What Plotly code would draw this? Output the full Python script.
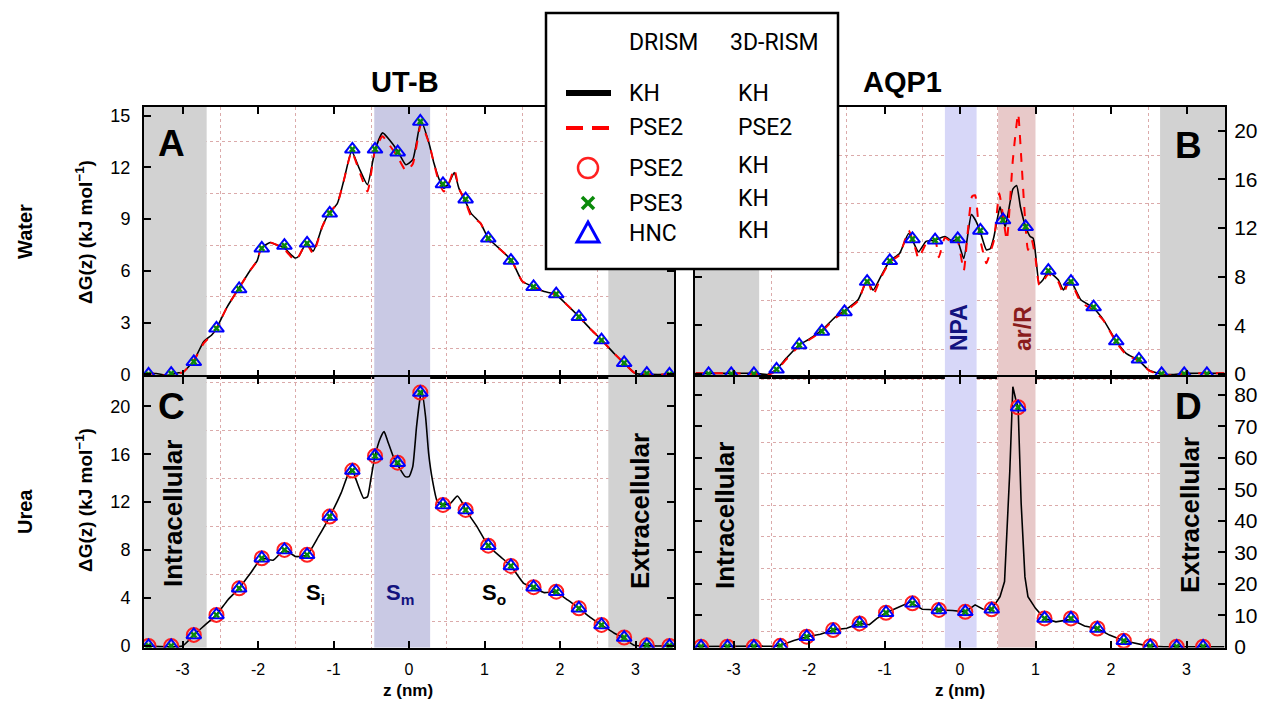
import plotly.graph_objects as go

W, H = 1267, 704
OFF = 8  # default page margin of the html body

# ---------------- data ----------------
x_tick_vals = [-3, -2, -1, 0, 1, 2, 3]
x_tick_text = ["-3", "-2", "-1", "0", "1", "2", "3"]

# Panel A : UT-B water
z_A_kh = [-3.5, -3.35, -3.2, -3.05, -3.0, -2.85, -2.72, -2.61, -2.55, -2.41, -2.26, -2.1, -2.01, -1.96,
          -1.84, -1.75, -1.67, -1.51, -1.46, -1.36, -1.27, -1.15, -1.06, -0.95, -0.86, -0.76, -0.66,
          -0.55, -0.45, -0.35, -0.26, -0.15, -0.04, 0.05, 0.16, 0.265, 0.33, 0.4, 0.46, 0.53, 0.6,
          0.66, 0.75, 0.82, 0.95, 1.05, 1.22, 1.36, 1.5, 1.66, 1.79, 1.94, 2.1, 2.25, 2.4, 2.55,
          2.72, 2.85, 3.0, 3.2, 3.5]
g_A_kh = [0.05, 0.05, -0.05, 0.1, 0.1, 0.8, 1.9, 2.3, 2.67, 3.9, 4.95, 6.05, 6.6, 7.3,
          7.65, 7.5, 7.4, 6.75, 6.85, 7.6, 7.15, 8.55, 9.35, 9.9, 11.3, 12.95, 11.95,
          11.0, 13.0, 14.0, 13.6, 12.95, 12.15, 12.45, 14.7, 13.4, 12.25, 11.3, 10.8, 11.1, 11.7,
          10.8, 10.0, 9.35, 8.75, 7.9, 7.2, 6.6, 5.4, 5.05, 4.8, 4.65, 4.0, 3.35, 2.65, 2.0,
          1.2, 0.65, 0.05, 0.0, 0.0]
g_A_pse = [0.05, 0.05, -0.1, 0.1, 0.1, 0.8, 1.8, 2.3, 2.67, 3.9, 4.95, 6.05, 6.6, 7.3,
           7.65, 7.5, 7.35, 6.6, 6.85, 7.6, 7.0, 8.55, 9.35, 9.9, 11.3, 12.9, 11.8,
           10.6, 13.0, 13.8, 13.3, 12.6, 11.8, 12.2, 14.5, 13.4, 12.25, 11.1, 10.6, 11.1, 11.9,
           10.8, 10.0, 9.2, 8.75, 7.8, 7.2, 6.6, 5.4, 5.05, 4.8, 4.65, 4.0, 3.35, 2.65, 2.0,
           1.2, 0.65, 0.05, 0.0, 0.0]

# Panel B : AQP1 water
z_B_kh = [-3.5, -3.0, -2.7, -2.55, -2.43, -2.3, -2.13, -2.0, -1.83, -1.65, -1.53, -1.35, -1.23, -1.15,
          -1.05, -0.93, -0.8, -0.68, -0.55, -0.45, -0.33, -0.2, -0.1, -0.04, 0.05, 0.15, 0.2, 0.26,
          0.35, 0.4, 0.45, 0.53, 0.57, 0.6, 0.7, 0.75, 0.8, 0.87, 0.93, 0.97, 1.0, 1.05, 1.1, 1.17,
          1.3, 1.37, 1.42, 1.47, 1.6, 1.7, 1.76, 1.9, 2.06, 2.2, 2.36, 2.5, 2.66, 2.8, 3.0, 3.5]
g_B_kh = [0.05, 0.05, 0.05, -0.05, 0.38, 1.3, 2.4, 2.85, 3.6, 4.7, 5.2, 6.1, 7.65, 6.9,
          8.0, 9.3, 9.9, 11.55, 10.05, 10.9, 11.0, 11.3, 10.9, 11.05, 9.5, 13.1, 12.7, 11.85,
          10.2, 10.3, 11.3, 13.75, 12.7, 12.1, 15.2, 15.5, 13.75, 12.1, 11.3, 11.15, 9.9, 7.45, 7.75, 8.4,
          7.75, 6.9, 7.45, 7.6, 6.1, 5.7, 5.5, 4.45, 2.8, 1.7, 1.15, 0.33, 0.0, -0.05, 0.05, 0.05]
z_B_pse = [-3.5, -3.0, -2.7, -2.55, -2.43, -2.3, -2.13, -2.0, -1.83, -1.65, -1.53, -1.35, -1.23, -1.15,
           -1.05, -0.93, -0.8, -0.68, -0.6, -0.55, -0.45, -0.33, -0.28, -0.2, -0.1, -0.04, 0.05, 0.1,
           0.16, 0.2, 0.26, 0.35, 0.4, 0.45, 0.52, 0.57, 0.62, 0.7, 0.77, 0.81, 0.86, 0.9, 0.95, 1.0,
           1.05, 1.1, 1.17, 1.3, 1.37, 1.42, 1.47, 1.6, 1.7, 1.76, 1.9, 2.06, 2.2, 2.36, 2.5, 2.66,
           2.8, 3.0, 3.5]
g_B_pse = [0.05, 0.05, 0.0, -0.1, 0.3, 1.2, 2.3, 2.8, 3.5, 4.6, 5.1, 6.0, 7.8, 6.5,
           7.9, 9.2, 9.8, 11.8, 10.5, 9.5, 10.7, 11.0, 9.6, 11.2, 10.8, 11.2, 8.5, 11.5,
           14.6, 14.7, 11.3, 9.1, 10.0, 11.0, 14.85, 13.0, 11.0, 17.6, 21.4, 17.9, 12.9, 10.2, 11.0, 9.5,
           7.3, 7.6, 8.2, 7.6, 6.6, 7.3, 7.5, 5.9, 5.5, 5.3, 4.4, 2.7, 1.6, 1.1, 0.3, -0.1,
           -0.1, 0.05, 0.05]

# Panel C : UT-B urea
z_C_kh = [-3.5, -3.0, -2.85, -2.7, -2.55, -2.4, -2.25, -2.1, -1.95, -1.8, -1.65, -1.5, -1.35, -1.2,
          -1.05, -0.9, -0.8, -0.75, -0.7, -0.6, -0.55, -0.5, -0.45, -0.38, -0.33, -0.28, -0.2, -0.15,
          -0.05, 0.0, 0.05, 0.1, 0.15, 0.17, 0.22, 0.26, 0.31, 0.375, 0.44, 0.55, 0.64, 0.71, 0.75,
          0.9, 1.05, 1.21, 1.35, 1.52, 1.65, 1.79, 1.94, 2.1, 2.25, 2.4, 2.55, 2.72, 2.85, 2.98,
          3.2, 3.5]
g_C_kh = [0.0, 0.0, 0.92, 1.75, 2.59, 3.84, 4.81, 6.07, 7.32, 7.15, 8.01, 7.46, 7.6, 9.12,
          10.8, 12.75, 14.42, 14.7, 13.86, 12.33, 12.45, 14.13, 15.86, 17.34, 17.89, 17.05, 15.67, 15.1,
          14.13, 14.13, 14.97, 18.3, 20.8, 21.3, 19.1, 16.08, 13.86, 12.05, 11.77, 11.91, 12.52, 11.91, 11.35,
          9.96, 8.37, 7.45, 6.68, 5.23, 4.9, 4.45, 4.5, 3.84, 3.14, 2.39, 1.75, 1.06, 0.64, 0.05,
          0.0, 0.0]

# Panel D : AQP1 urea
z_D_kh = [-3.5, -3.0, -2.6, -2.45, -2.38, -2.2, -2.03, -1.85, -1.68, -1.5, -1.33, -1.2, -1.1, -0.98,
          -0.8, -0.66, -0.5, -0.28, -0.1, 0.07, 0.2, 0.3, 0.42, 0.53, 0.59, 0.66, 0.7, 0.74, 0.77,
          0.81, 0.86, 0.9, 1.0, 1.12, 1.27, 1.47, 1.65, 1.82, 1.98, 2.17, 2.33, 2.5, 2.7, 3.5]
g_D_kh = [0.1, 0.1, 0.1, 0.2, 0.4, 2.0, 3.2, 4.0, 5.3, 5.9, 7.4, 7.0, 9.0, 10.8,
          12.7, 14.2, 11.9, 11.7, 11.5, 11.1, 13.3, 12.0, 11.9, 15.9, 20.7, 56.0, 82.6, 78.4, 76.0,
          45.6, 22.2, 15.9, 12.2, 9.0, 7.9, 8.7, 6.6, 5.8, 3.7, 1.9, 1.1, 0.2, 0.0, 0.0]

# symbols (PSE2/KH circles, PSE3/KH crosses, HNC/KH triangles)
z_mark_utb = [-3.45, -3.15, -2.85, -2.55, -2.25, -1.95, -1.65, -1.35, -1.05, -0.75, -0.45, -0.15,
              0.15, 0.45, 0.75, 1.05, 1.35, 1.65, 1.95, 2.25, 2.55, 2.85, 3.15, 3.45]
g_mark_A = [0.0, 0.05, 0.73, 2.67, 4.95, 7.31, 7.47, 7.6, 9.34, 13.05, 13.05, 12.88,
            14.66, 11.04, 10.16, 7.89, 6.6, 5.08, 4.66, 3.34, 1.99, 0.67, 0.05, 0.0]
g_mark_C = [0.0, 0.0, 0.92, 2.59, 4.81, 7.32, 8.01, 7.6, 10.8, 14.64, 15.86, 15.3,
            21.15, 11.77, 11.35, 8.37, 6.68, 4.9, 4.53, 3.14, 1.75, 0.7, 0.05, 0.0]
z_mark_B = [-3.33, -3.03, -2.73, -2.43, -2.13, -1.83, -1.53, -1.23, -0.93, -0.63, -0.33, -0.03,
            0.27, 0.57, 0.87, 1.17, 1.47, 1.77, 2.07, 2.37, 2.67, 2.97, 3.27]
g_mark_B = [0.0, 0.0, 0.0, 0.38, 2.38, 3.5, 5.1, 7.6, 9.3, 11.1, 11.0, 11.1,
            11.8, 12.66, 12.1, 8.5, 7.6, 5.5, 2.7, 1.2, 0.0, 0.0, 0.0]
z_mark_D = [-3.43, -3.08, -2.73, -2.38, -2.03, -1.68, -1.33, -0.98, -0.63, -0.28, 0.07, 0.42,
            0.77, 1.12, 1.47, 1.82, 2.17, 2.52, 2.87, 3.22]
g_mark_D = [0.0, 0.0, 0.0, 0.3, 3.2, 5.3, 7.4, 10.8, 13.8, 11.7, 11.1, 11.9,
            76.1, 9.0, 9.0, 5.8, 1.9, 0.2, 0.0, 0.0]

# shaded regions (z in nm)
utb_regions = [(-3.51, -2.68, "#d2d2d2"), (-0.46, 0.28, "#c9c9e4"), (2.64, 3.51, "#d2d2d2")]
aqp_regions = [(-3.51, -2.66, "#d2d2d2"), (-0.2, 0.22, "#d7d7f8"), (0.505, 1.0, "#e8c9c9"), (2.65, 3.51, "#d2d2d2")]

# axis ranges
x_range = [-3.51, 3.51]
yA_range = [-0.15, 15.5]
yB_range = [-0.25, 21.95]
yC_range = [-0.15, 22.45]
yD_range = [-0.3, 85.7]
yA_ticks = [0, 3, 6, 9, 12, 15]
yB_ticks = [0, 4, 8, 12, 16, 20]
yC_ticks = [0, 4, 8, 12, 16, 20]
yD_ticks = [0, 10, 20, 30, 40, 50, 60, 70, 80]
yA_grid = [1.5, 4.5, 7.5, 10.5, 13.5]
yB_grid = [2, 6, 10, 14, 18]
yC_grid = [2, 6, 10, 14, 18, 22]
yD_grid = [5, 15, 25, 35, 45, 55, 65, 75, 85]
x_grid = [-2.5, -1.5, -0.5, 0.5, 1.5, 2.5]

# ---------------- figure ----------------
FONT = "Liberation Sans"
GRID = "#dbaaaa"


def px(x):
    return (x - OFF) / W


def py(y):
    return 1 - (y - OFF) / H


fig = go.Figure()


def add_regions(regions, ax, yr):
    for (a, b, c) in regions:
        fig.add_trace(go.Scatter(x=[a, b, b, a, a], y=[yr[0], yr[0], yr[1], yr[1], yr[0]],
                                 xaxis=ax[0], yaxis=ax[1], mode="lines", fill="toself",
                                 fillcolor=c, line=dict(width=0, color=c),
                                 showlegend=False, hoverinfo="skip"))


def add_lines(z, g, ax, color, dash, width, shape="spline"):
    fig.add_trace(go.Scatter(x=z, y=g, xaxis=ax[0], yaxis=ax[1], mode="lines",
                             line=dict(color=color, width=width, dash=dash, shape=shape,
                                       smoothing=0.5 if shape == "spline" else None),
                             showlegend=False, hoverinfo="skip"))


def add_marks(z, g, ax, circles):
    if circles:
        fig.add_trace(go.Scatter(x=z, y=g, xaxis=ax[0], yaxis=ax[1], mode="markers",
                                 marker=dict(symbol="circle-open", size=14, color="#ff2020",
                                             line=dict(width=2, color="#ff2020")),
                                 showlegend=False, hoverinfo="skip"))
    fig.add_trace(go.Scatter(x=z, y=g, xaxis=ax[0], yaxis=ax[1], mode="markers",
                             marker=dict(symbol="triangle-up-open", size=13, color="#0000ff",
                                         line=dict(width=2, color="#0000ff")),
                             showlegend=False, hoverinfo="skip"))
    fig.add_trace(go.Scatter(x=z, y=g, xaxis=ax[0], yaxis=ax[1], mode="markers",
                             marker=dict(symbol="x", size=6, color="#0a8a0a",
                                         line=dict(width=0)),
                             showlegend=False, hoverinfo="skip"))


axA, axB, axC, axD = ("x", "y"), ("x2", "y2"), ("x3", "y3"), ("x4", "y4")

add_regions(utb_regions, axA, yA_range)
add_regions(aqp_regions, axB, yB_range)
add_regions(utb_regions, axC, yC_range)
add_regions(aqp_regions, axD, yD_range)

add_lines(z_A_kh, g_A_kh, axA, "black", "solid", 1.6)
add_lines(z_A_kh, g_A_pse, axA, "#ff0000", "dash", 2)
add_marks(z_mark_utb, g_mark_A, axA, False)

add_lines(z_B_kh, g_B_kh, axB, "black", "solid", 1.6)
add_lines(z_B_pse, g_B_pse, axB, "#ff0000", "dash", 2)
add_marks(z_mark_B, g_mark_B, axB, False)

add_lines(z_C_kh, g_C_kh, axC, "black", "solid", 1.6)
add_marks(z_mark_utb, g_mark_C, axC, True)

add_lines(z_D_kh, g_D_kh, axD, "black", "solid", 1.6, shape="linear")
add_marks(z_mark_D, g_mark_D, axD, True)

xdom_L = [px(144), px(674)]
xdom_R = [px(695), px(1225)]
ydom_T = [py(377), py(107)]
ydom_B = [py(647.7), py(377)]


def xax(domain, anchor, labels):
    return dict(domain=domain, anchor=anchor, range=x_range, automargin=False,
                tickmode="array", tickvals=x_tick_vals, ticktext=x_tick_text,
                ticks="inside", ticklen=7, tickwidth=1.5, tickcolor="black",
                showline=True, linewidth=2, linecolor="black", mirror="ticks",
                showgrid=False, zeroline=False, showticklabels=labels,
                ticklabelstandoff=6,
                tickfont=dict(family=FONT, size=16, color="black"),
                minor=dict(tickvals=x_grid, showgrid=True, gridcolor=GRID,
                           griddash="dot", gridwidth=1, ticks=""))


def yax(domain, anchor, rng, tickv, minorv, side, fsize):
    return dict(domain=domain, anchor=anchor, range=rng, side=side, automargin=False,
                tickmode="array", tickvals=tickv, ticktext=[str(v) for v in tickv],
                ticks="inside", ticklen=7, tickwidth=1.5, tickcolor="black",
                showline=True, linewidth=2, linecolor="black", mirror="ticks",
                showgrid=False, zeroline=False, ticklabelstandoff=8 if side == "left" else 3,
                tickfont=dict(family=FONT, size=fsize, color="black"),
                minor=dict(tickvals=minorv, showgrid=True, gridcolor=GRID,
                           griddash="dot", gridwidth=1, ticks=""))


fig.update_layout(
    width=W, height=H, margin=dict(l=0, r=0, t=0, b=0, autoexpand=False), autosize=False,
    paper_bgcolor="white", plot_bgcolor="white", showlegend=False,
    xaxis=xax(xdom_L, "y", False),
    yaxis=yax(ydom_T, "x", yA_range, yA_ticks, yA_grid, "left", 18),
    xaxis2=xax(xdom_R, "y2", False),
    yaxis2=yax(ydom_T, "x2", yB_range, yB_ticks, yB_grid, "right", 21),
    xaxis3=xax(xdom_L, "y3", True),
    yaxis3=yax(ydom_B, "x3", yC_range, yC_ticks, yC_grid, "left", 18),
    xaxis4=xax(xdom_R, "y4", True),
    yaxis4=yax(ydom_B, "x4", yD_range, yD_ticks, yD_grid, "right", 21),
)

shapes = []
# legend box
shapes.append(dict(type="rect", xref="paper", yref="paper", x0=px(546), x1=px(838), y0=py(269), y1=py(13),
                   fillcolor="white", line=dict(color="black", width=2.5), layer="above"))
shapes.append(dict(type="line", xref="paper", yref="paper", x0=px(566), x1=px(611), y0=py(93), y1=py(93),
                   line=dict(color="black", width=6), layer="above"))
shapes.append(dict(type="line", xref="paper", yref="paper", x0=px(566), x1=px(610), y0=py(128), y1=py(128),
                   line=dict(color="#ff0000", width=4, dash="17px,9px"), layer="above"))
shapes.append(dict(type="circle", xref="paper", yref="paper", x0=px(578), x1=px(598), y0=py(178), y1=py(158),
                   line=dict(color="#ff2020", width=2.5), layer="above"))
shapes.append(dict(type="line", xref="paper", yref="paper", x0=px(582), x1=px(594), y0=py(197), y1=py(209),
                   line=dict(color="#0a8a0a", width=3.5), layer="above"))
shapes.append(dict(type="line", xref="paper", yref="paper", x0=px(582), x1=px(594), y0=py(209), y1=py(197),
                   line=dict(color="#0a8a0a", width=3.5), layer="above"))
shapes.append(dict(type="path", xref="paper", yref="paper",
                   path=f"M {px(577)} {py(242)} L {px(599)} {py(242)} L {px(588)} {py(222)} Z",
                   line=dict(color="#0000ff", width=3), layer="above"))
fig.update_layout(shapes=shapes)

ann = []


def text(x, y, s, size, color="black", angle=0, bold=True, family=FONT, xanchor="center"):
    ann.append(dict(x=px(x), y=py(y), xref="paper", yref="paper", text=(f"<b>{s}</b>" if bold else s),
                    showarrow=False, textangle=angle, xanchor=xanchor, yanchor="middle",
                    font=dict(family=family, size=size, color=color)))


text(405, 82, "UT-B", 29)
text(902, 82, "AQP1", 29)
text(172, 143, "A", 37)
text(1188, 145, "B", 37)
text(171, 406, "C", 37)
text(1188, 406, "D", 37)
text(25, 232, "Water", 20, angle=-90)
text(25, 512, "Urea", 20, angle=-90)
text(84, 232, "ΔG(z) (kJ mol<sup>−1</sup>)", 19, angle=-90)
text(84, 500, "ΔG(z) (kJ mol<sup>−1</sup>)", 19, angle=-90)
text(408, 690, "z (nm)", 17)
text(960, 690, "z (nm)", 17)
text(173, 513, "Intracellular", 26, angle=-90)
text(640, 511, "Extracellular", 26, angle=-90)
text(725, 516, "Intracellular", 26, angle=-90)
text(1190, 515, "Extracellular", 26, angle=-90)
text(959, 328, "NPA", 23, color="#12127e", angle=-90)
text(1023, 328, "ar/R", 23, color="#8a1c1c", angle=-90)
text(315, 594, "S<sub>i</sub>", 22)
text(400, 594, "S<sub>m</sub>", 22, color="#12127e")
text(494, 594, "S<sub>o</sub>", 22)

LF = "Roboto"
text(627, 43, "DRISM", 23, bold=False, family=LF, xanchor="left")
text(728, 43, "3D-RISM", 23, bold=False, family=LF, xanchor="left")
col2 = [("KH", 93), ("PSE2", 128), ("PSE2", 168), ("PSE3", 203), ("HNC", 233)]
col3 = [("KH", 93), ("PSE2", 128), ("KH", 165), ("KH", 199), ("KH", 230)]
for s, y in col2:
    text(627, y, s, 23, bold=False, family=LF, xanchor="left")
for s, y in col3:
    text(736, y, s, 23, bold=False, family=LF, xanchor="left")

fig.update_layout(annotations=ann)

fig.write_html("out.html", config={"displayModeBar": False, "responsive": False})
